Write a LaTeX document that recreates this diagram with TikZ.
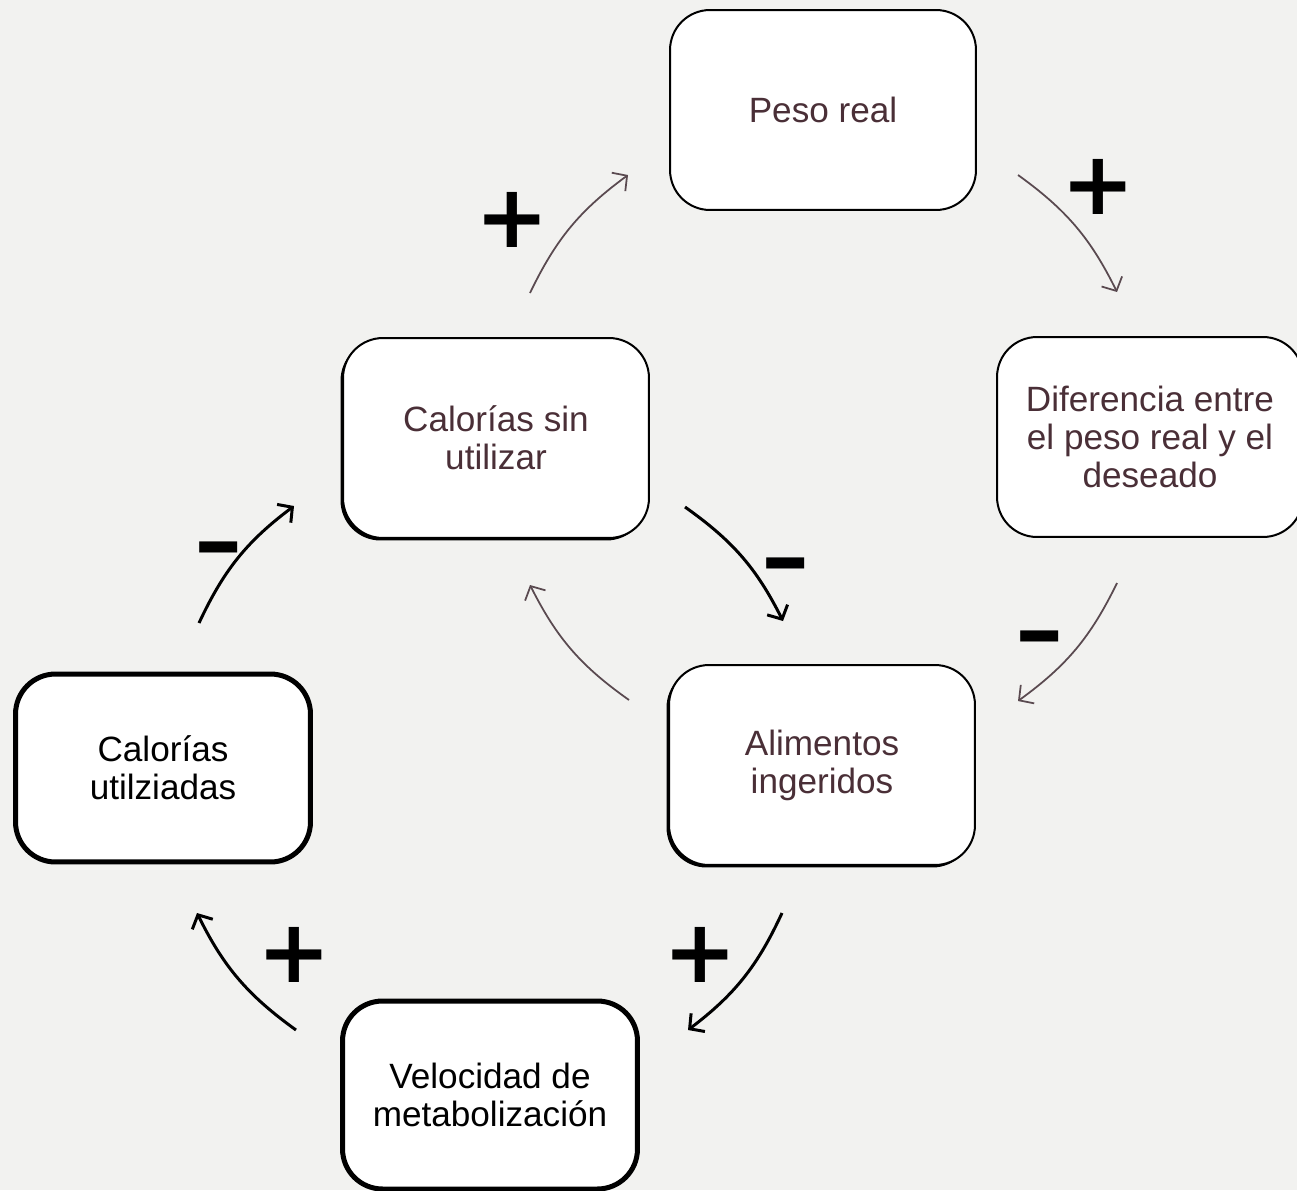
\documentclass[tikz,border=0pt]{standalone}
\usepackage{fontspec}
\setmainfont{Liberation Sans}
\newfontfamily\signfont{DejaVu Sans}
\usetikzlibrary{arrows.meta,shadows}
\definecolor{bgc}{HTML}{F2F2F0}
\definecolor{txt}{HTML}{4A2F37}
\definecolor{arc}{HTML}{5A4A50}

\begin{document}
\begin{tikzpicture}[x=0.02cm,y=-0.02cm,
	box/.style={draw,fill=white,rounded corners=0.8cm,line width=0.04cm,minimum width=6.12cm,minimum height=4cm,align=center,text=txt,font=\fontsize{20}{21.6}\selectfont},
	sbox/.style={box,general shadow={fill=black,shadow xshift=-0.05cm,shadow yshift=-0.05cm}},
	tbox/.style={box,line width=0.1cm,minimum width=5.9cm,minimum height=3.76cm,text=black},
	greyarc/.style={arc,line width=1pt,-{Straight Barb[length=6pt,width=13pt]},bend left=14},
	blackarc/.style={line width=1.7pt,-{Straight Barb[length=6pt,width=13pt]},bend left=14},
	sign/.style={inner sep=0pt,font=\signfont\bfseries\fontsize{50}{50}\selectfont},
	minus/.style={sign,yshift=-0.22cm,xscale=1.1}]
	\path[use as bounding box,fill=bgc] (0,0) rectangle (1297,1190);
	% boxes
	\node[box] (pr) at (823,110) {Peso real};
	\node[sbox] (cs) at (496,438) {Calorías sin\\utilizar};
	\node[box] (dif) at (1150,437) {Diferencia entre\\el peso real y el\\deseado};
	\node[sbox] (ai) at (822,765) {Alimentos\\ingeridos};
	\node[tbox] (cu) at (163,768) {Calorías\\utilziadas};
	\node[tbox] (vm) at (490,1095) {Velocidad de\\metabolización};
	% arrow ends
	\coordinate (a1) at (530,293); \coordinate (b1) at (628,175);
	\coordinate (a2) at (1018,175); \coordinate (b2) at (1117,292);
	\coordinate (a3) at (1117,583); \coordinate (b3) at (1018,701);
	\coordinate (a4) at (629,700); \coordinate (b4) at (530,585);
	\coordinate (a5) at (685,507); \coordinate (b5) at (783,621);
	\coordinate (a6) at (782,913); \coordinate (b6) at (688,1030);
	\coordinate (a7) at (296,1030); \coordinate (b7) at (197,913);
	\coordinate (a8) at (199,623); \coordinate (b8) at (294,506);
	\draw[greyarc] (a1) to (b1);
	\draw[greyarc] (a2) to (b2);
	\draw[greyarc] (a3) to (b3);
	\draw[greyarc] (a4) to (b4);
	\draw[blackarc] (a5) to (b5);
	\draw[blackarc] (a6) to (b6);
	\draw[blackarc] (a7) to (b7);
	\draw[blackarc] (a8) to (b8);
	% signs
	\node[sign] (s1) at (512,220) {+};
	\node[sign] (s2) at (1098,187) {+};
	\node[minus] (s3) at (1040,635) {–};
	\node[minus] (s5) at (786,562) {–};
	\node[sign] (s6) at (700,955) {+};
	\node[sign] (s7) at (294,955) {+};
	\node[minus] (s8) at (219,546) {–};
\end{tikzpicture}
\end{document}
